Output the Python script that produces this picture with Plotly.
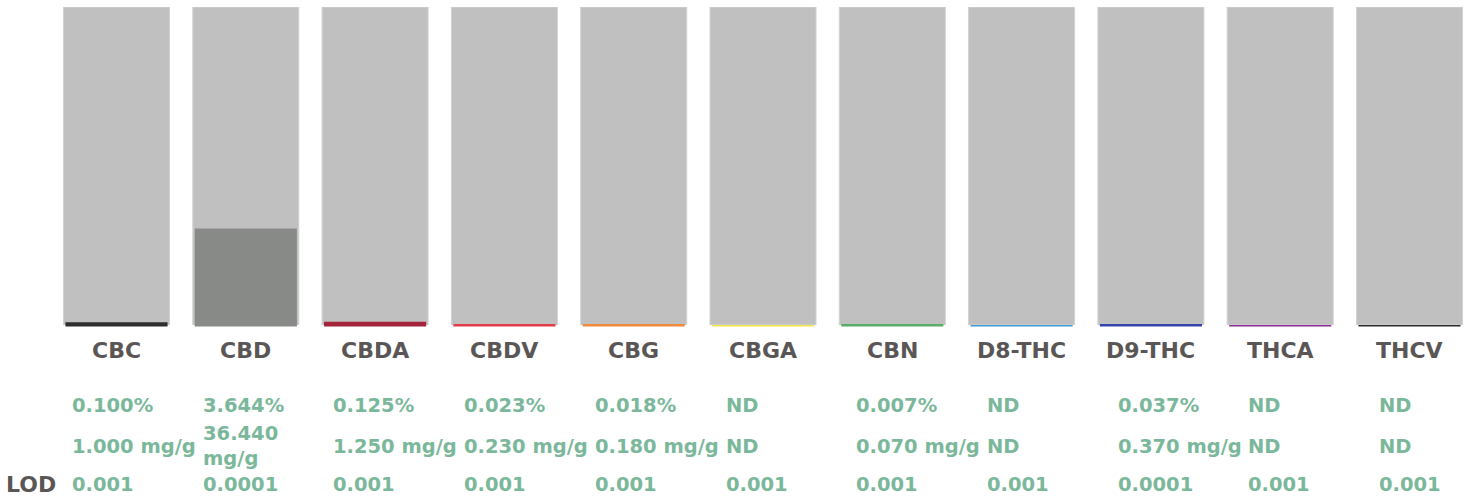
import plotly.graph_objects as go

# ---- data ----
cannabinoids = ["CBC", "CBD", "CBDA", "CBDV", "CBG", "CBGA", "CBN", "D8-THC", "D9-THC", "THCA", "THCV"]
percent = [0.100, 3.644, 0.125, 0.023, 0.018, 0.0, 0.007, 0.0, 0.037, 0.0, 0.0]
percent_text = ["0.100%", "3.644%", "0.125%", "0.023%", "0.018%", "ND", "0.007%", "ND", "0.037%", "ND", "ND"]
mg_text = ["1.000 mg/g", "36.440 mg/g", "1.250 mg/g", "0.230 mg/g", "0.180 mg/g", "ND",
           "0.070 mg/g", "ND", "0.370 mg/g", "ND", "ND"]
lod_text = ["0.001", "0.0001", "0.001", "0.001", "0.001", "0.001", "0.001", "0.001", "0.0001", "0.001", "0.001"]
scale_max = 12.0
colors = ["#2e2e2e", "#888a88", "#a3243b", "#e23d4b", "#ef8a3c", "#f2e64a", "#5aae6c",
          "#3d9bd8", "#3444ad", "#8e2a98", "#2b2b2b"]

W, H = 1468, 497
TOP, BOTTOM = 7, 325
PLOT_H = BOTTOM - TOP
PITCH = 129.3
FIRST_CENTER = 116.5
x0 = -FIRST_CENTER / PITCH
x1 = x0 + W / PITCH


def ypx(p):
    return (BOTTOM - p) / PLOT_H


def wrap(s):
    if len(s) > 10 and " " in s:
        return s.replace(" ", "<br>", 1)
    return s


idx = list(range(len(cannabinoids)))
fig = go.Figure()

# full-scale background columns
fig.add_trace(go.Bar(x=idx, y=[scale_max] * len(idx), width=0.82,
                     marker=dict(color="#c0c0c0", line=dict(color="#d2d2d2", width=1)),
                     hoverinfo="skip", showlegend=False))
# value bars
fig.add_trace(go.Bar(x=idx, y=percent, width=0.79,
                     marker=dict(color=colors, line=dict(width=0)),
                     hovertext=cannabinoids, showlegend=False))

shapes = []
# coloured base line under each column
for i, c in zip(idx, colors):
    shapes.append(dict(type="rect", xref="x", yref="paper", x0=i - 0.395, x1=i + 0.395,
                       y0=ypx(BOTTOM + 1.5), y1=ypx(BOTTOM), fillcolor=c, line=dict(width=0),
                       layer="above"))

annotations = []
label_font = dict(family="DejaVu Sans", size=22, color="#5b5656")
val_font = dict(family="DejaVu Sans", size=19.5, color="#7bb89b")
for i, name in enumerate(cannabinoids):
    annotations.append(dict(x=i, xref="x", y=ypx(350), yref="paper", text="<b>%s</b>" % name,
                            showarrow=False, xanchor="center", yanchor="middle", font=label_font))
    tx = (70 + 130.7 * i) / W
    annotations.append(dict(x=tx, xref="paper", y=ypx(405), yref="paper", text="<b>%s</b>" % percent_text[i],
                            showarrow=False, xanchor="left", yanchor="middle", align="left", font=val_font))
    annotations.append(dict(x=tx, xref="paper", y=ypx(446), yref="paper", text="<b>%s</b>" % wrap(mg_text[i]),
                            showarrow=False, xanchor="left", yanchor="middle", align="left", font=val_font))
    annotations.append(dict(x=tx, xref="paper", y=ypx(485), yref="paper", text="<b>%s</b>" % lod_text[i],
                            showarrow=False, xanchor="left", yanchor="middle", align="left", font=val_font))
annotations.append(dict(x=4 / W, xref="paper", y=ypx(485), yref="paper", text="<b>LOD</b>",
                        showarrow=False, xanchor="left", yanchor="middle", font=label_font))

fig.update_layout(
    width=W, height=H,
    margin=dict(l=0, r=0, t=TOP, b=H - BOTTOM, pad=0),
    barmode="overlay",
    paper_bgcolor="white",
    plot_bgcolor="rgba(0,0,0,0)",
    xaxis=dict(range=[x0, x1], visible=False, fixedrange=True),
    yaxis=dict(range=[0, scale_max], visible=False, fixedrange=True),
    shapes=shapes,
    annotations=annotations,
    showlegend=False,
)

fig.write_html("out.html", config={"displayModeBar": False},
               post_script="document.body.style.margin='0px';document.body.style.overflow='hidden';")
